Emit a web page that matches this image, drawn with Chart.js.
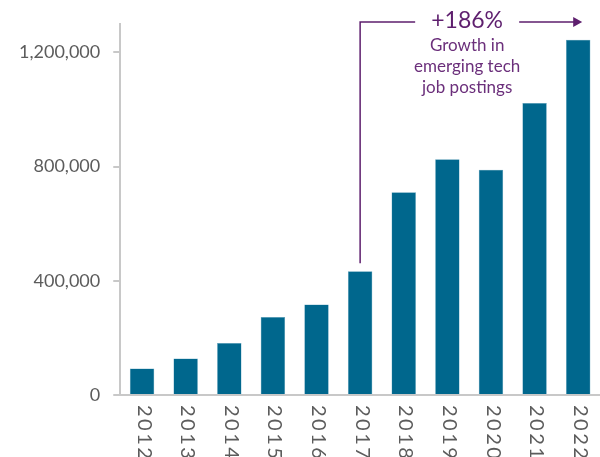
<!DOCTYPE html>
<html>
<head>
<meta charset="utf-8">
<script src="https://cdn.jsdelivr.net/npm/chart.js@4.4.0/dist/chart.umd.min.js"></script>
<style>
  html, body { margin: 0; padding: 0; background: #fff; }
  #wrap { width: 600px; height: 457px; }
</style>
</head>
<body>
<div id="wrap"><canvas id="myChart"></canvas></div>
<script>
// data
var years = ['2012', '2013', '2014', '2015', '2016', '2017', '2018', '2019', '2020', '2021', '2022'];
var postings = [93000, 128000, 182000, 273000, 317000, 433000, 710000, 826000, 789000, 1023000, 1244000];
var yTicks = [0, 400000, 800000, 1200000];

var purple = '#5e1f6e';
var grey = '#5c5c5c';

// x labels, drawn top-to-bottom like the original
var yearLabels = {
  id: 'yearLabels',
  afterDraw: function (chart) {
    var ctx = chart.ctx;
    var x = chart.scales.x;
    var bottom = chart.chartArea.bottom;
    ctx.save();
    ctx.font = '20px Lato';
    ctx.letterSpacing = '2.5px';
    ctx.fillStyle = grey;
    ctx.textAlign = 'left';
    ctx.textBaseline = 'middle';
    years.forEach(function (y, i) {
      ctx.save();
      ctx.translate(x.getPixelForValue(i) + 2, bottom + 10);
      ctx.rotate(Math.PI / 2);
      ctx.fillText(y, 0, 0);
      ctx.restore();
    });
    ctx.restore();
  }
};

// +186% bracket
var growthNote = {
  id: 'growthNote',
  afterDraw: function (chart) {
    var ctx = chart.ctx;
    var x = chart.scales.x;
    var y = chart.scales.y;
    var x0 = x.getPixelForValue(5);
    var yStart = y.getPixelForValue(postings[5]) - 8;
    var top = 22;
    var tx = (x.getPixelForValue(7) + x.getPixelForValue(8)) / 2 - 2;
    var xEnd = x.getPixelForValue(10) + 4;

    ctx.save();
    ctx.strokeStyle = purple;
    ctx.fillStyle = purple;
    ctx.lineWidth = 1.5;
    ctx.beginPath();
    ctx.moveTo(x0, yStart);
    ctx.lineTo(x0, top);
    ctx.lineTo(tx - 52, top);
    ctx.moveTo(tx + 52, top);
    ctx.lineTo(xEnd - 8, top);
    ctx.stroke();
    ctx.beginPath();
    ctx.moveTo(xEnd, top);
    ctx.lineTo(xEnd - 9, top - 5);
    ctx.lineTo(xEnd - 9, top + 5);
    ctx.closePath();
    ctx.fill();

    ctx.textAlign = 'center';
    ctx.textBaseline = 'middle';
    ctx.font = '23px Lato';
    ctx.fillText('+186%', tx, top - 1);
    ctx.fillStyle = '#6b2f7b';
    ctx.font = '17px Lato';
    ctx.fillText('Growth in', tx, 46);
    ctx.fillText('emerging tech', tx, 67);
    ctx.fillText('job postings', tx, 88);
    ctx.restore();
  }
};

var ctx = document.getElementById('myChart').getContext('2d');
var myChart = new Chart(ctx, {
  type: 'bar',
  data: {
    labels: years,
    datasets: [
      {
        label: 'Emerging tech job postings',
        data: postings,
        backgroundColor: '#00678d',
        borderColor: '#5b9fba',
        borderWidth: 0.5,
        barPercentage: 0.56,
        categoryPercentage: 1
      }
    ]
  },
  options: {
    responsive: true,
    maintainAspectRatio: false,
    animation: false,
    layout: {
      padding: { top: 9, bottom: 54, left: 6, right: 0 }
    },
    scales: {
      x: {
        grid: { display: false },
        border: { color: '#c8c8c8', width: 2 },
        ticks: { display: false }
      },
      y: {
        min: 0,
        max: 1300000,
        afterBuildTicks: function (axis) {
          axis.ticks = yTicks.map(function (v) { return { value: v }; });
        },
        grid: {
          drawOnChartArea: false,
          drawTicks: true,
          tickLength: 7,
          color: '#c8c8c8',
          lineWidth: 2
        },
        border: { color: '#c8c8c8', width: 2 },
        ticks: {
          padding: 13,
          color: grey,
          font: { family: 'Lato', size: 18 },
          callback: function (v) { return v.toLocaleString('en-US'); }
        }
      }
    },
    plugins: {
      legend: { display: false },
      tooltip: { enabled: false }
    }
  },
  plugins: [yearLabels, growthNote]
});
</script>
</body>
</html>
